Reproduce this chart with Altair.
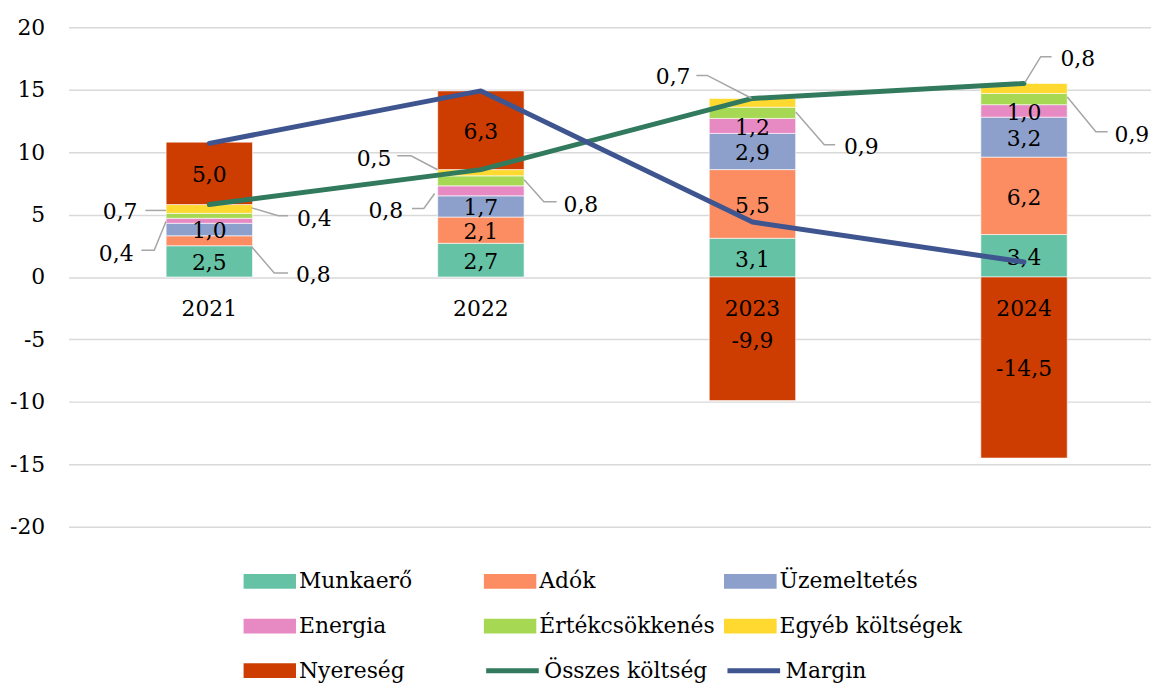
import altair as alt
import pandas as pd

# ---------------- data ----------------
years = ["2021", "2022", "2023", "2024"]
series = ["Munkaerő", "Adók", "Üzemeltetés", "Energia", "Értékcsökkenés",
          "Egyéb költségek", "Nyereség"]
munkaero = [2.5, 2.7, 3.1, 3.4]
adok = [0.8, 2.1, 5.5, 6.2]
uzemeltetes = [1.0, 1.7, 2.9, 3.2]
energia = [0.4, 0.8, 1.2, 1.0]
ertekcsokkenes = [0.4, 0.8, 0.9, 0.9]
egyeb = [0.7, 0.5, 0.7, 0.8]
nyereseg = [5.0, 6.3, -9.9, -14.5]
line_names = ["Összes költség", "Margin"]
osszes_koltseg = [5.8, 8.6, 14.3, 15.5]
margin = [10.7, 14.9, 4.4, 1.2]

bar_colors = ["#66c2a5", "#fc8d62", "#8da0cb", "#e78ac3", "#a6d854", "#ffd92f", "#cd3c00"]
line_colors = ["#317a5e", "#3f5590"]

# ---------------- layout ----------------
W, H = 1090, 503
STEP = 276.0                     # px per category
X0 = -0.5
X1 = X0 + W / STEP
YMIN, YMAX = -20, 20
PXY = H / (YMAX - YMIN)          # px per y unit
FONT = "DejaVu Serif"
FS = 22

# callouts: (year idx, series, leader points px offsets rel. to (bar centre, segment mid), label offset, align)
CALLOUTS = [
    (0, "Egyéb költségek", [(-44, 1.5), (-65, 1.5)], (-73, 3.5), "right"),
    (0, "Értékcsökkenés", [(43, -8), (70, 0), (80, 0)], (89, 3), "left"),
    (0, "Energia", [(-44, 0.6), (-56, 29.6), (-69, 29.6)], (-77, 33.6), "right"),
    (0, "Adók", [(43, 6), (66, 32.5), (80, 32.5)], (88, 34.5), "left"),
    (1, "Egyéb költségek", [(-44, -3), (-71, -17), (-85, -17)], (-91, -14), "right"),
    (1, "Energia", [(-47, 2.7), (-58, 17.7), (-70, 17.7)], (-79, 20), "right"),
    (1, "Értékcsökkenés", [(44, -1), (64, 21), (77, 21)], (84, 24), "left"),
    (2, "Egyéb költségek", [(-1, -4.6), (-46, -27.6), (-57, -27.6)], (-63, -25.6), "right"),
    (2, "Értékcsökkenés", [(44, -0.7), (73, 32.3), (84, 32.3)], (93, 34.3), "left"),
    (3, "Egyéb költségek", [(1, -6), (17, -32), (28, -32)], (37, -30), "left"),
    (3, "Értékcsökkenés", [(44, -2), (73, 33), (85, 33)], (92, 36), "left"),
]


def fmt(v):
    return f"{v:.1f}".replace(".", ",")


values = [munkaero, adok, uzemeltetes, energia, ertekcsokkenes, egyeb, nyereseg]
callout_keys = {(c[0], c[1]) for c in CALLOUTS}

rows = []
mids = {}
for i, yr in enumerate(years):
    pos, neg = 0.0, 0.0
    for k, s in enumerate(series):
        v = values[k][i]
        if v >= 0:
            mid = pos + v / 2
            pos += v
        else:
            mid = neg + v / 2
            neg += v
        mids[(i, s)] = (mid, v)
        rows.append(dict(x=i, year=yr, series=s, ord=k, y=v, mid=mid, label=fmt(v),
                         inside=(i, s) not in callout_keys))
bars_df = pd.DataFrame(rows)
inside_df = bars_df[bars_df["inside"]].copy()
inside_df["y"] = inside_df["mid"]

lead_rows, lab_rows = [], []
for cid, (i, s, pts, lab, align) in enumerate(CALLOUTS):
    mid, v = mids[(i, s)]
    for k, (dx, dy) in enumerate(pts):
        lead_rows.append(dict(cid=cid, k=k, x=i + dx / STEP, y=mid - dy / PXY))
    lab_rows.append(dict(x=i + lab[0] / STEP, y=mid - lab[1] / PXY, label=fmt(v), align=align))
lead_df = pd.DataFrame(lead_rows)
lab_df = pd.DataFrame(lab_rows)

year_df = pd.DataFrame(dict(x=list(range(len(years))), y=[0] * len(years), label=years))

line_rows = []
for name, vals in zip(line_names, [osszes_koltseg, margin]):
    for i, v in enumerate(vals):
        line_rows.append(dict(x=i, y=v, series=name))
line_df = pd.DataFrame(line_rows)

# ---------------- encodings ----------------
xscale = alt.Scale(domain=[X0, X1], nice=False, zero=False)
yscale = alt.Scale(domain=[YMIN, YMAX], nice=False, zero=False)
yaxis = alt.Axis(values=list(range(-20, 21, 5)), title=None, domain=False, ticks=False,
                 labelFont=FONT, labelFontSize=FS, labelColor="black", labelPadding=24,
                 labelExpr="'' + datum.value", grid=True, gridColor="#d9d9d9", gridWidth=1.5)
X = alt.X("x:Q", scale=xscale, axis=None)


def Y(stack=None):
    return alt.Y("y:Q", scale=yscale, axis=yaxis, stack=stack)


bars = alt.Chart(bars_df).mark_bar(size=87, stroke="white", strokeWidth=0.6).encode(
    x=X,
    y=Y("zero"),
    color=alt.Color("series:N",
                    scale=alt.Scale(domain=series, range=bar_colors),
                    sort=series,
                    legend=alt.Legend(title=None, orient="none", legendX=176, legendY=547,
                                      direction="horizontal", columns=3, gridAlign="all",
                                      padding=0,
                                      symbolType="M-1,-0.28H1V0.28H-1Z", symbolSize=2809,
                                      symbolStrokeWidth=0, clipHeight=22,
                                      labelFont=FONT, labelFontSize=FS, labelColor="black",
                                      labelOffset=3, labelLimit=400,
                                      columnPadding=2, rowPadding=23)),
    order=alt.Order("ord:Q"),
)

inside_text = alt.Chart(inside_df).mark_text(font=FONT, fontSize=FS, color="black",
                                             baseline="middle", dy=2).encode(
    x=X, y=Y(), text="label:N")

year_text = alt.Chart(year_df).mark_text(font=FONT, fontSize=FS, color="black",
                                         baseline="middle", dy=32).encode(
    x=X, y=Y(), text="label:N")

lines = alt.Chart(line_df).mark_line(strokeWidth=5, strokeCap="round", strokeJoin="round").encode(
    x=X, y=Y(),
    color=alt.Color("series:N",
                    scale=alt.Scale(domain=line_names, range=line_colors),
                    sort=line_names,
                    legend=alt.Legend(title=None, orient="none", legendX=418, legendY=637,
                                      direction="horizontal", columns=2, gridAlign="all",
                                      padding=0, symbolType="stroke", symbolSize=2809,
                                      symbolStrokeWidth=5, clipHeight=22,
                                      labelFont=FONT, labelFontSize=FS, labelColor="black",
                                      labelOffset=3, labelLimit=400, columnPadding=17)),
    order=alt.Order("x:Q"),
)

leaders = alt.Chart(lead_df).mark_line(color="#a6a6a6", strokeWidth=1.5).encode(
    x=X, y=Y(), detail="cid:N", order=alt.Order("k:Q"))

lab_left = alt.Chart(lab_df[lab_df["align"] == "left"]).mark_text(
    font=FONT, fontSize=FS, color="black", baseline="middle", align="left").encode(
    x=X, y=Y(), text="label:N")
lab_right = alt.Chart(lab_df[lab_df["align"] == "right"]).mark_text(
    font=FONT, fontSize=FS, color="black", baseline="middle", align="right").encode(
    x=X, y=Y(), text="label:N")

chart = alt.layer(bars, inside_text, year_text, lines, leaders, lab_left, lab_right).resolve_scale(
    color="independent"
).properties(
    width=W, height=H,
    autosize=alt.AutoSizeParams(type="none"),
    padding={"left": 61, "top": 17, "right": 0, "bottom": 160},
).configure_view(stroke=None)

chart.save("out.html", embed_options={"renderer": "svg", "actions": False})
